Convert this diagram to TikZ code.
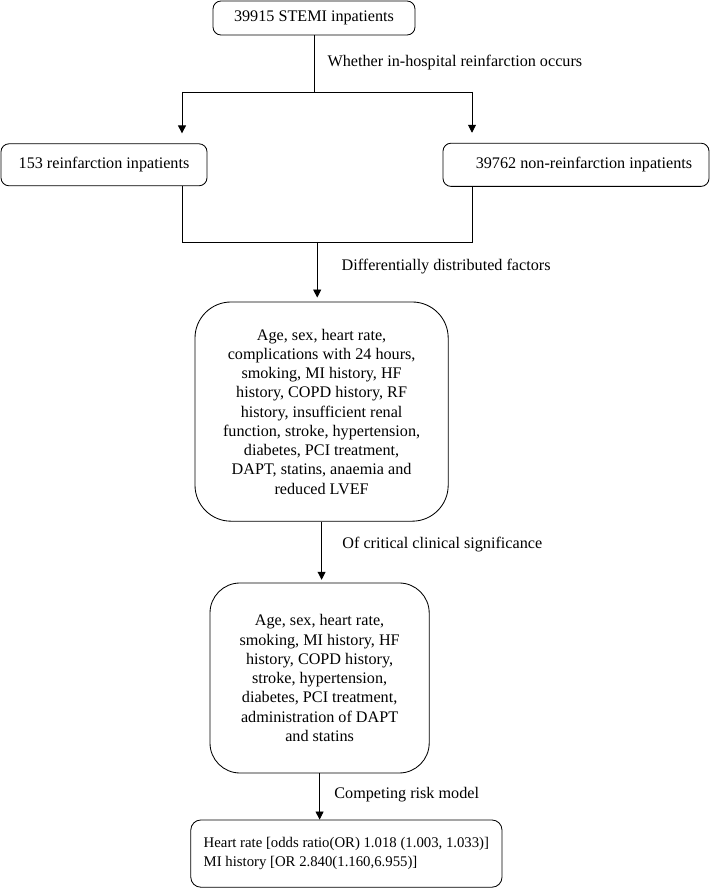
\documentclass[tikz,border=0pt]{standalone}
\usepackage{fontspec}
\setmainfont{Liberation Serif}
\usetikzlibrary{arrows.meta}
\usetikzlibrary{shapes.geometric,calc}

\begin{document}
\begin{tikzpicture}[
        box/.style={draw,rounded corners=0.2cm,line width=0.6pt,inner sep=2pt},
        roundbox/.style={draw,line width=0.6pt,align=center,inner sep=0pt},
        lbl/.style={anchor=west,inner sep=0pt},
        >={Triangle[length=2mm,width=2mm]},
        every path/.style={line width=0.6pt},
        font=\fontsize{11.5}{13.7}\selectfont
    ]
        \useasboundingbox (0,0) rectangle (17.75,22.2);

        \node[box,minimum width=5.05cm,minimum height=0.85cm] (stemi) at (7.85,21.75) {39915 STEMI inpatients};
        \node[box,minimum width=5.15cm,minimum height=1.05cm] (reinf) at (2.6,18.08) {153 reinfarction inpatients};
        \node[box,minimum width=6.65cm,minimum height=1.08cm] (nonreinf) at (14.4,18.08) {\hspace{0.4cm}39762 non-reinfarction inpatients};
        \node[roundbox,rounded corners=0.9cm,minimum width=6.33cm,minimum height=5.48cm] (factors) at (8.04,11.91)
            {Age, sex, heart rate,\\ complications with 24 hours,\\ smoking, MI history, HF\\ history, COPD history, RF\\ history, insufficient renal\\ function, stroke, hypertension,\\ diabetes, PCI treatment,\\ DAPT, statins, anaemia and\\ reduced LVEF};
        \node[roundbox,rounded corners=0.75cm,minimum width=5.48cm,minimum height=4.75cm] (critical) at (7.99,5.25)
            {Age, sex, heart rate,\\ smoking, MI history, HF\\ history, COPD history,\\ stroke, hypertension,\\ diabetes, PCI treatment,\\ administration of DAPT\\ and statins};
        \node[box,rounded corners=0.25cm,minimum height=1.68cm,minimum width=7.78cm,align=left,
              font=\fontsize{10.5}{13.7}\selectfont] (result) at (8.66,0.86)
            {Heart rate [odds ratio(OR) 1.018 (1.003, 1.033)]\\ MI history [OR 2.840(1.160,6.955)]};

        % split after the first box
        \coordinate (splitL) at (4.55,19.9);
        \coordinate (splitR) at (11.8,19.9);
        \draw (stemi.south) -- (stemi.south |- splitL);
        \draw (splitL) -- (splitR);
        \draw[->,shorten >=0.25cm] (splitL) -- (splitL |- reinf.north);
        \draw[->,shorten >=0.25cm] (splitR) -- (splitR |- nonreinf.north);
        \node[lbl] (whether) at (8.18,20.63) {Whether in-hospital reinfarction occurs};

        % join of both groups
        \coordinate (joinL) at (4.55,16.15);
        \coordinate (joinR) at (11.8,16.15);
        \coordinate (join) at (7.93,16.15);
        \draw (joinL |- reinf.south) -- (joinL) -- (joinR) -- (joinR |- nonreinf.south);
        \draw[->,shorten >=0.1cm] (join) -- (join |- factors.north);
        \node[lbl] (diff) at (8.53,15.53) {Differentially distributed factors};

        \draw[->,shorten >=0.07cm] (factors.south) -- (factors.south |- critical.north);
        \node[lbl] (signif) at (8.55,8.58) {Of critical clinical significance};

        \draw[->] (critical.south) -- (critical.south |- result.north);
        \node[lbl] (model) at (8.35,2.33) {Competing risk model};
\end{tikzpicture}
\end{document}
